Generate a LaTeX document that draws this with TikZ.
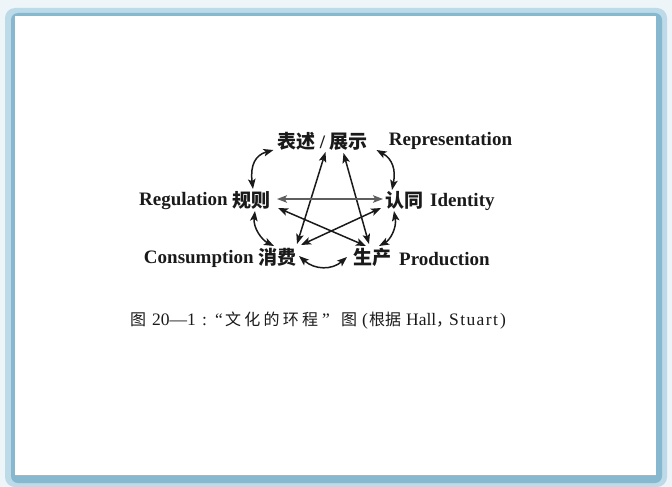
\documentclass[tikz,border=0pt]{standalone}
\usepackage{fontspec}
\setmainfont{Liberation Serif}
\newfontfamily\cjk{Noto Sans CJK SC}
\newfontfamily\cjkcap{Noto Sans CJK SC}[LetterSpace=20]
\usetikzlibrary{calc,arrows.meta}
\definecolor{bgc}{HTML}{EEF5F8}
\definecolor{lightframe}{HTML}{BCDAE7}
\definecolor{darkframe}{HTML}{86B9CF}
\definecolor{ink}{HTML}{1A1A1A}
\tikzset{
  lbl/.style={inner sep=0pt, text=ink, font=\fontsize{19}{21}\selectfont\bfseries},
  zh/.style={inner sep=0pt, text=ink, font=\fontsize{19}{21}\selectfont\cjk\bfseries},
  link/.style={draw=ink, line width=1.5pt, {Stealth[length=10pt,width=7.5pt,inset=2.2pt]}-{Stealth[length=10pt,width=7.5pt,inset=2.2pt]}},
}
\newcommand{\pc}[2]{\makebox[#1pt][l]{#2}}
\newcommand{\capzh}{\fontsize{16}{18}\selectfont\cjk}
\begin{document}
\begin{tikzpicture}[x=1pt,y=-1pt]
\useasboundingbox (0,0) rectangle (672,487);
\fill[bgc] (0,0) rectangle (672,487);
\fill[lightframe, rounded corners=10pt] (5,8) rectangle (667,487);
\fill[darkframe, rounded corners=7pt] (11,13) rectangle (662,483);
\fill[white] (15,16) rectangle (656,475);
\draw[gray!60, line width=0.8pt] (15,475.4) -- (656,475.4);

% nodes
\node[zh] (bs) at (322.5,141) {表述\hspace{4pt}{\fontspec{Liberation Serif}/}\hspace{4pt}展示};
\node[lbl] (rep) at (450.5,141) {Representation};
\node[zh] (gz) at (251,200) {规则};
\node[lbl, anchor=east] (reg) at (228,201.5) {Regulation};
\node[zh] (rt) at (404,200) {认同};
\node[lbl, anchor=west] (iden) at (430,202) {Identity};
\node[zh] (xf) at (277,257) {消费};
\node[lbl, anchor=east] (cons) at (254,259) {Consumption};
\node[zh] (sc) at (372,257) {生产};
\node[lbl, anchor=west] (prod) at (399,259) {Production};

% straight connectors
\draw[link] ($(bs)+(3,11)$) -- ($(xf)+(20,-13)$);
\draw[link] ($(bs)+(21,12)$) -- ($(sc)+(-3,-13)$);
\draw[link, draw=ink!70] ($(gz)+(26,-1)$) -- ($(rt)+(-21,-1)$);
\draw[link] ($(gz)+(27,8)$) -- ($(sc)+(-6,-11)$);
\draw[link] ($(rt)+(-23,8)$) -- ($(xf)+(24,-12)$);

% curved connectors
\draw[link] ($(bs)+(-49,9)$) .. controls +(-18,5) and +(-3,-24) .. ($(gz)+(2,-11)$);
\draw[link] ($(rep)+(-74,9)$) .. controls +(16,9) and +(4,-20) .. ($(rt)+(-12,-10)$);
\draw[link] ($(gz)+(4,11)$) .. controls +(-2,17) and +(-12,-6) .. ($(xf)+(-3,-11)$);
\draw[link] ($(rt)+(-10,11)$) .. controls +(3,17) and +(11,-6) .. ($(sc)+(7,-11)$);
\draw[link] ($(xf)+(22,-1)$) .. controls +(16,14) and +(-15,13) .. ($(sc)+(-25,0)$);

% caption
\node[inner sep=0pt, anchor=west, text=ink, font=\fontsize{17.5}{19}\selectfont] (cap) at (130,321)
  {\pc{22}{\capzh 图}\pc{50}{20—1}\pc{13}{:}\pc{10}{“}%
   \pc{97}{\fontsize{16}{18}\selectfont\cjkcap 文化的环程}\pc{19}{”}%
   \pc{21}{\capzh 图}\pc{7}{(}%
   \pc{37}{\capzh 根据}\pc{30}{Hall}\pc{13}{\capzh ，}%
   \pc{51}{\addfontfeature{LetterSpace=8}Stuart}\pc{8}{)}};
\end{tikzpicture}
\end{document}
